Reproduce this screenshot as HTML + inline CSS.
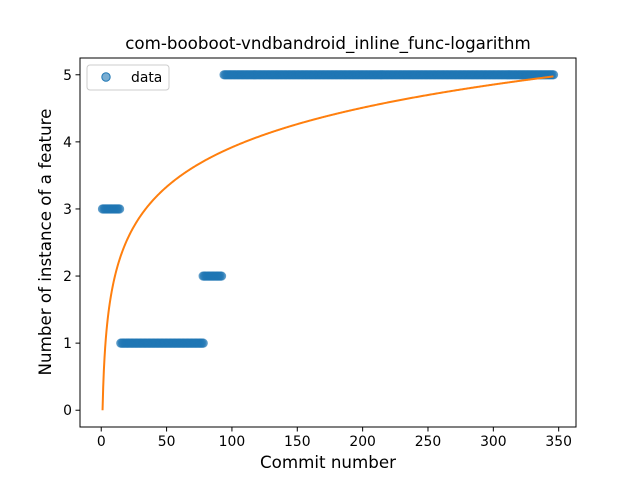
<!DOCTYPE html>
<html><head><meta charset="utf-8"><style>
body{margin:0;background:#fff}
svg{font-family:"DejaVu Sans","Liberation Sans",sans-serif}
</style></head><body>
<svg id="chart" width="640" height="480" viewBox="0 0 640 480">
<rect width="640" height="480" fill="#fff"/>
<text x="328" y="49" text-anchor="middle" font-size="16.7">com-booboot-vndbandroid_inline_func-logarithm</text>
<g id="plot"></g>
<rect x="80" y="58" width="496" height="369" fill="none" stroke="#000" stroke-width="1"/>
<text x="328" y="468" text-anchor="middle" font-size="16.7">Commit number</text>
<text transform="translate(51,242) rotate(-90)" text-anchor="middle" font-size="16.7">Number of instance of a feature</text>
<g>
<rect x="87" y="65" width="82" height="25" rx="3" fill="#fff" stroke="#ccc"/>
<circle cx="106" cy="77" r="4.2" fill="#1f77b4" fill-opacity="0.6" stroke="#1f77b4"/>
<text x="131" y="82" font-size="13.9">data</text>
</g>
</svg>
<script>
const segStart=[1,15,78,94];
const segEnd=[14,78,92,346];
const segValue=[3,1,2,5];
const xTicks=[0,50,100,150,200,250,300,350];
const yTicks=[0,1,2,3,4,5];
const fitA=0.851, fitB=0;
const X0=80,X1=576,Y0=427,Y1=58;
const xmin=-16.25,xmax=363.25,ymin=-0.25,ymax=5.25;
const sx=v=>X0+(v-xmin)/(xmax-xmin)*(X1-X0);
const sy=v=>Y0-(v-ymin)/(ymax-ymin)*(Y0-Y1);
const NS="http://www.w3.org/2000/svg";
const g=document.getElementById('plot');
function mk(t,a){const e=document.createElementNS(NS,t);for(const k in a)e.setAttribute(k,a[k]);g.appendChild(e);return e;}
xTicks.forEach(t=>{
 const l=mk('line',{x1:sx(t),x2:sx(t),y1:Y0,y2:Y0+4.5,stroke:'#000'});
 
 
 const tx=mk('text',{x:sx(t),y:Y0+19,'text-anchor':'middle','font-size':'13.9'});tx.textContent=t;
 
 
});
yTicks.forEach(t=>{
 const l=mk('line',{x1:X0-4.5,x2:X0,y1:sy(t),y2:sy(t),stroke:'#000'});
 
 
 const tx=mk('text',{x:X0-8,y:sy(t)+5,'text-anchor':'end','font-size':'13.9'});tx.textContent=t;
 
 
});
segValue.forEach((v,i)=>{
 for(let x=segStart[i];x<=segEnd[i];x++){
  const c=mk('circle',{cx:sx(x),cy:sy(v),r:4.2,fill:'#1f77b4','fill-opacity':0.6,stroke:'#1f77b4','stroke-opacity':0.6});
  
  
 }
});
let d='';
for(let x=1;x<=segEnd[segEnd.length-1];x+=0.5){d+=(d?'L':'M')+sx(x).toFixed(2)+','+sy(fitA*Math.log(x)+fitB).toFixed(2);}
const p=mk('path',{d:d,fill:'none',stroke:'#ff7f0e','stroke-width':2});


</script>
</body></html>
